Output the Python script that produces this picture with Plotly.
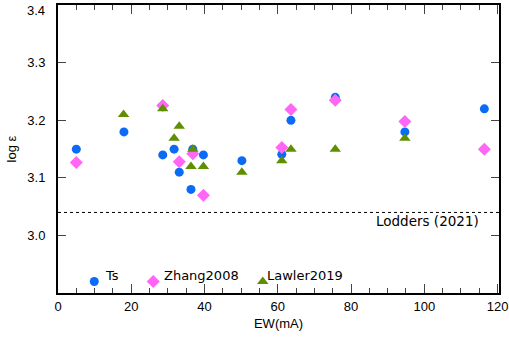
import plotly.graph_objects as go

# Data
ts_x = [5, 18, 28.6, 31.7, 33.1, 36.3, 36.8, 39.7, 50.2, 61.1, 63.6, 75.7, 94.7, 116.4]
ts_y = [3.150, 3.180, 3.140, 3.150, 3.110, 3.080, 3.150, 3.140, 3.130, 3.141, 3.200, 3.240, 3.180, 3.220]

zh_x = [5, 28.6, 33.1, 36.8, 39.7, 61.1, 63.6, 75.7, 94.7, 116.4]
zh_y = [3.127, 3.226, 3.128, 3.142, 3.070, 3.153, 3.219, 3.235, 3.198, 3.150]

lw_x = [17.9, 28.6, 31.7, 33.1, 36.3, 36.8, 39.7, 50.2, 61.1, 63.6, 75.7, 94.7]
lw_y = [3.210, 3.220, 3.169, 3.190, 3.120, 3.150, 3.120, 3.110, 3.130, 3.150, 3.150, 3.169]

lodders = 3.04
series_names = ["Ts", "Zhang2008", "Lawler2019"]
legend_x = [9.9, 26.0, 55.9]
legend_y = 2.92
y_ticks = [3.0, 3.1, 3.2, 3.3, 3.4]

BLUE = "#0a6cf5"
MAGENTA = "#ff66f5"
GREEN = "#5f8f00"
FONT = "Liberation Sans"
TFONT = "DejaVu Sans"

fig = go.Figure()
fig.add_trace(go.Scatter(x=ts_x, y=ts_y, mode="markers", name="Ts",
                         marker=dict(symbol="circle", size=9, color=BLUE)))
fig.add_trace(go.Scatter(x=zh_x, y=zh_y, mode="markers", name="Zhang2008",
                         marker=dict(symbol="diamond", size=10, color=MAGENTA)))
fig.add_trace(go.Scatter(x=lw_x, y=lw_y, mode="markers", name="Lawler2019",
                         marker=dict(symbol="triangle-up", size=10, color=GREEN)))

# in-plot legend
sym = ["circle", "diamond", "triangle-up"]
cols = [BLUE, MAGENTA, GREEN]
sizes = [9, 10, 10]
offs = [2.3, 2.4, 0.5]
for i, nm in enumerate(series_names):
    fig.add_trace(go.Scatter(x=[legend_x[i]], y=[legend_y], mode="markers",
                             marker=dict(symbol=sym[i], size=sizes[i], color=cols[i]),
                             showlegend=False, hoverinfo="skip"))
    fig.add_annotation(x=legend_x[i] + offs[i], y=legend_y, text=nm, showarrow=False,
                       xanchor="left", yanchor="bottom", yshift=-4,
                       font=dict(family=TFONT, size=13, color="black"))

fig.add_shape(type="line", xref="paper", x0=0, x1=1, y0=lodders, y1=lodders,
              line=dict(color="black", width=1, dash="dot"))
fig.add_annotation(x=115.5, y=lodders, text="Lodders (2021)", showarrow=False,
                   xanchor="right", yanchor="top", yshift=1,
                   font=dict(family=TFONT, size=13.5, color="black"))

# top tick label: shifted down so it stays inside the page (as in the reference)
tick_text = [f"{v:.1f}" for v in y_ticks]
fig.add_annotation(xref="paper", x=0, y=y_ticks[-1], text=tick_text[-1], showarrow=False,
                   xanchor="right", yanchor="middle", xshift=-11, yshift=-5,
                   font=dict(family=FONT, size=13, color="black"))
tick_text[-1] = ""

axis_common = dict(showgrid=False, zeroline=False, showline=True, linecolor="black",
                   linewidth=2, mirror="ticks", ticks="inside", tickcolor="#444444",
                   tickwidth=1.2, tickfont=dict(family=FONT, size=13, color="black"),
                   automargin=False)

fig.update_xaxes(range=[0, 120.4], dtick=20, tick0=0, ticklen=9,
                 minor=dict(dtick=5, ticklen=5, ticks="inside", tickcolor="#444444", tickwidth=1.2),
                 title=dict(text="EW(mA)", font=dict(family=FONT, size=13, color="black"), standoff=6),
                 **axis_common)
fig.update_yaxes(range=[2.9, 3.4005], tickvals=y_ticks, ticktext=tick_text,
                 ticklen=8,
                 title=dict(text="log ε", font=dict(family=FONT, size=13, color="black"), standoff=8),
                 ticklabelstandoff=8,
                 **axis_common)

fig.update_layout(width=509, height=337, margin=dict(l=58, r=10, t=5, b=44),
                  plot_bgcolor="white", paper_bgcolor="white", showlegend=False,
                  font=dict(family=FONT, size=13, color="black"))

fig.write_html("out.html")
